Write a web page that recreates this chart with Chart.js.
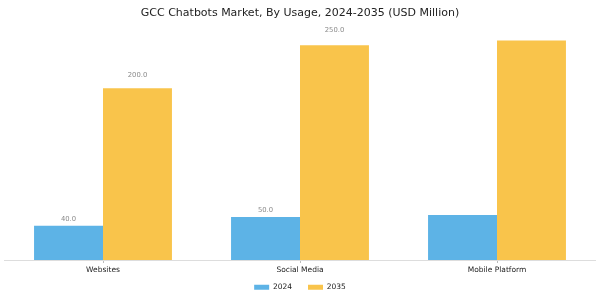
<!DOCTYPE html>
<html>
<head>
<meta charset="utf-8">
<script src="https://cdn.jsdelivr.net/npm/chart.js@4/dist/chart.umd.min.js"></script>
<style>
  html, body { margin: 0; padding: 0; background: #ffffff; }
  #wrap { width: 600px; height: 300px; position: relative; }
</style>
</head>
<body>
<div id="wrap"><canvas id="c" width="600" height="300"></canvas></div>
<script>
const categories = ["Websites", "Social Media", "Mobile Platform"];
const seriesNames = ["2024", "2035"];
const values2024 = [40.0, 50.0, 52.5];
const values2035 = [200.0, 250.0, 255.5];
const labelShown = [true, true, false];
const seriesColors = ["#5DB3E6", "#F9C44B"];

const FONT = "'DejaVu Sans', 'Liberation Sans', sans-serif";

const valueLabels = {
  id: 'valueLabels',
  afterDatasetsDraw(chart) {
    const ctx = chart.ctx;
    const yScale = chart.scales.y;
    const area = chart.chartArea;
    ctx.save();
    ctx.font = "6.8px " + FONT;
    ctx.fillStyle = "#8a8a8a";
    ctx.textAlign = "center";
    ctx.textBaseline = "middle";
    chart.data.datasets.forEach((ds, di) => {
      const meta = chart.getDatasetMeta(di);
      meta.data.forEach((bar, i) => {
        if (!labelShown[i]) return;
        const v = ds.data[i];
        const y = yScale.getPixelForValue(v * 1.05 + 5);
        if (y < area.top) return;
        ctx.fillText(v.toFixed(1), bar.x, y);
      });
    });
    ctx.restore();
  }
};

// nudge the legend row up (wide item spacing, tight vertical space)
const legendNudge = {
  id: 'legendNudge',
  afterLayout(chart) {
    const lg = chart.legend;
    if (lg) { lg.top -= 9.5; lg.bottom -= 9.5; }
  }
};

new Chart(document.getElementById('c'), {
  type: 'bar',
  data: {
    labels: categories,
    datasets: [
      { label: seriesNames[0], data: values2024, backgroundColor: seriesColors[0], borderWidth: 0 },
      { label: seriesNames[1], data: values2035, backgroundColor: seriesColors[1], borderWidth: 0 }
    ]
  },
  options: {
    responsive: false,
    animation: false,
    devicePixelRatio: 1,
    layout: { padding: { left: 4.5, right: 4.5, top: 0, bottom: 0 } },
    datasets: { bar: { categoryPercentage: 0.7, barPercentage: 1.0 } },
    scales: {
      x: {
        grid: { display: true, drawOnChartArea: false, drawTicks: true, tickLength: 3, offset: false, color: "#bbbbbb" },
        border: { display: true, color: "#dddddd", width: 1 },
        ticks: { color: "#222222", font: { family: FONT, size: 7.5 }, padding: 2.5 }
      },
      y: { display: false, min: 0, max: 270 }
    },
    plugins: {
      title: {
        display: true,
        text: "GCC Chatbots Market, By Usage, 2024-2035 (USD Million)",
        color: "#222222",
        font: { family: FONT, size: 11, weight: 'normal' },
        padding: { top: 7, bottom: 7.8 }
      },
      legend: {
        position: 'bottom',
        maxHeight: 23,
        labels: {
          color: "#222222",
          font: { family: FONT, size: 7.5 },
          boxWidth: 15,
          boxHeight: 5,
          padding: 16
        }
      },
      tooltip: { enabled: false }
    }
  },
  plugins: [valueLabels, legendNudge]
});
</script>
</body>
</html>
